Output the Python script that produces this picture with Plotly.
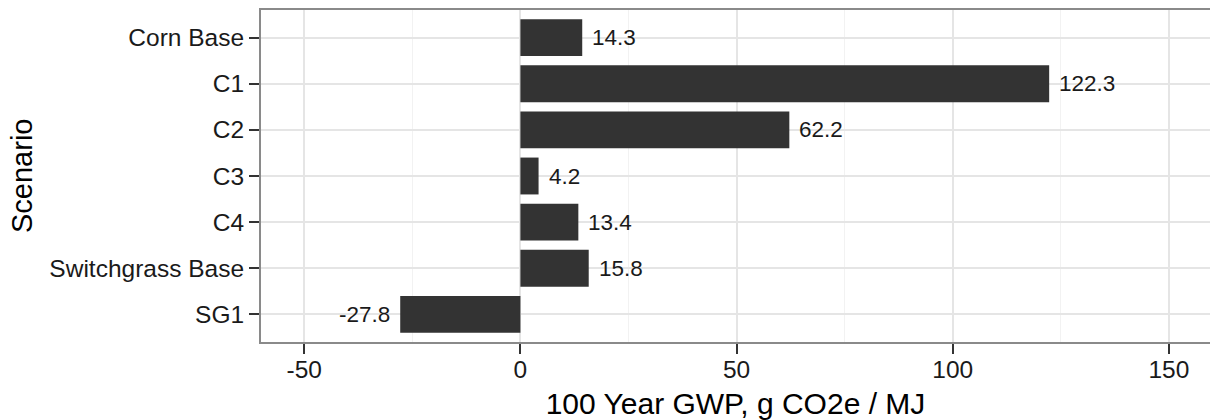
import plotly.graph_objects as go

scenarios = ["Corn Base", "C1", "C2", "C3", "C4", "Switchgrass Base", "SG1"]
gwp_values = [14.3, 122.3, 62.2, 4.2, 13.4, 15.8, -27.8]
x_ticks = [-50, 0, 50, 100, 150]
x_tick_labels = ["-50", "0", "50", "100", "150"]

FONT = "Liberation Sans, Arial, sans-serif"

fig = go.Figure()
fig.add_trace(go.Bar(
    x=gwp_values,
    y=scenarios,
    orientation="h",
    width=0.8,
    marker=dict(color="#333333", line=dict(width=0)),
    hoverinfo="skip",
))

for s, v in zip(scenarios, gwp_values):
    fig.add_annotation(
        x=v, y=s, text=f"{v:.1f}", showarrow=False,
        xanchor="left" if v >= 0 else "right",
        xshift=8 if v >= 0 else -8,
        font=dict(family=FONT, size=22.5, color="#1a1a1a"),
    )

# y-axis title as annotation for precise placement
fig.add_annotation(
    x=0, y=0.5, xref="paper", yref="paper",
    text="Scenario", textangle=-90, showarrow=False,
    xanchor="center", yanchor="middle", xshift=-239,
    font=dict(family=FONT, size=29, color="black"),
)

fig.update_layout(
    width=1210, height=420,
    margin=dict(l=261, r=0, t=10, b=78, autoexpand=False),
    plot_bgcolor="white", paper_bgcolor="white",
    showlegend=False,
    font=dict(family=FONT, color="black"),
)

fig.update_xaxes(
    range=[-60, 159.5],
    tickvals=x_ticks, ticktext=x_tick_labels,
    ticks="outside", ticklen=10, tickwidth=1.5, tickcolor="#333333",
    tickfont=dict(family=FONT, size=24.5, color="#1a1a1a"),
    ticklabelstandoff=-5,
    showgrid=True, gridcolor="#e5e5e5", gridwidth=1.5,
    minor=dict(dtick=25, tick0=0, showgrid=True, gridcolor="#f2f2f2", gridwidth=1),
    zeroline=False,
    showline=True, mirror=True, linecolor="#8a8a8a", linewidth=2,
    title=dict(text="100 Year GWP, g CO2e / MJ", standoff=12,
               font=dict(family=FONT, size=30, color="black")),
    automargin=False,
)

fig.update_yaxes(
    categoryorder="array", categoryarray=scenarios,
    range=[6.6, -0.6],
    ticks="outside", ticklen=10, tickwidth=1.5, tickcolor="#333333",
    tickfont=dict(family=FONT, size=24.5, color="#1a1a1a"),
    showgrid=True, gridcolor="#e5e5e5", gridwidth=1.5,
    zeroline=False,
    showline=True, mirror=False, linecolor="#8a8a8a", linewidth=2,
    automargin=False,
)

fig.write_html("out.html", config={"displayModeBar": False},
               post_script="document.body.style.margin='0';")
